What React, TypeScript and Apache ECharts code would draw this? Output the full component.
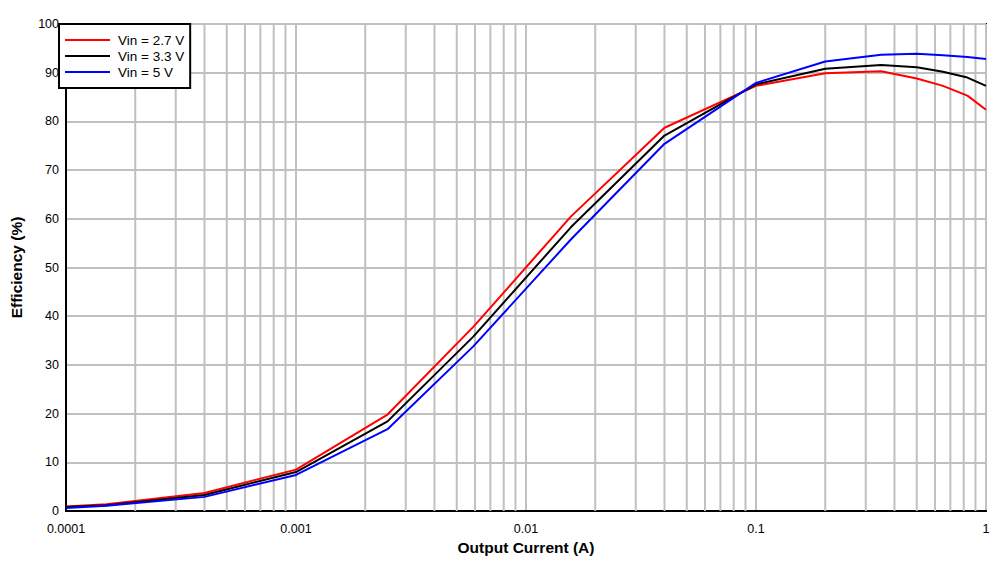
import React, { useEffect, useRef } from "react";
import * as echarts from "echarts";

const currents = [0.0001, 0.00015, 0.0004, 0.001, 0.0025, 0.0059, 0.0157, 0.04, 0.1, 0.2, 0.35, 0.5, 0.65, 0.83, 1];
const eff27 = [0.9, 1.4, 3.7, 8.5, 19.8, 37.8, 60.5, 78.7, 87.3, 89.9, 90.3, 88.8, 87.3, 85.3, 82.4];
const eff33 = [0.8, 1.2, 3.3, 8.0, 18.4, 35.8, 58.3, 77.1, 87.6, 90.8, 91.6, 91.1, 90.2, 89.0, 87.3];
const eff50 = [0.6, 1.1, 2.9, 7.4, 16.8, 33.8, 55.8, 75.4, 87.9, 92.3, 93.7, 93.9, 93.6, 93.2, 92.8];
const seriesNames = ["Vin = 2.7 V", "Vin = 3.3 V", "Vin = 5 V"];
const seriesColors = ["#ff0000", "#000000", "#0000ff"];
const decades = [0.0001, 0.001, 0.01, 0.1];
const minorMultipliers = [2, 3, 4, 5, 6, 7, 8, 9];

const FONT = "Liberation Sans, Arial, sans-serif";

export default function App() {
  const ref = useRef<HTMLDivElement>(null);
  useEffect(() => {
    if (!ref.current) return;
    const chart = echarts.init(ref.current, undefined, { renderer: "svg" });
    const minorData: any[] = [];
    decades.forEach((d) =>
      minorMultipliers.forEach((m) => {
        const x = +(d * m).toPrecision(6);
        minorData.push([x, 0], [x, 100], [x, "-"]);
      })
    );
    const all = [eff27, eff33, eff50];
    chart.setOption({
      animation: false,
      backgroundColor: "#ffffff",
      textStyle: { fontFamily: FONT },
      grid: { left: 59, right: 20, top: 24, bottom: 54, show: true, borderColor: "#000", borderWidth: 2, backgroundColor: "transparent" },
      legend: {
        left: 59,
        top: 24,
        orient: "vertical",
        data: seriesNames.map((n) => ({ name: n, icon: "rect" })),
        itemWidth: 45,
        itemHeight: 2,
        itemGap: 0,
        padding: [8, 6, 8, 6],
        borderColor: "#000",
        borderWidth: 2,
        borderRadius: 0,
        backgroundColor: "#fff",
        textStyle: { fontFamily: FONT, fontSize: 13.5, color: "#000", lineHeight: 16, padding: [0, 0, 0, 3] },
        itemStyle: { borderWidth: 0 },
      },
      xAxis: {
        type: "log",
        logBase: 10,
        min: 0.0001,
        max: 1,
        name: "Output Current (A)",
        nameLocation: "middle",
        nameGap: 28,
        nameTextStyle: { fontFamily: FONT, fontSize: 15.5, fontWeight: "bold", color: "#000" },
        axisLine: { show: true, lineStyle: { color: "#000", width: 2 } },
        axisTick: { show: false },
        axisLabel: {
          fontFamily: FONT,
          fontSize: 12.5,
          color: "#000",
          margin: 11,
          formatter: (v: number) => String(+v.toPrecision(3)),
        },
        splitLine: { show: true, lineStyle: { color: "#c0c0c0", width: 2 } },
      },
      yAxis: {
        type: "value",
        min: 0,
        max: 100,
        interval: 10,
        name: "Efficiency (%)",
        nameLocation: "middle",
        nameGap: 42,
        nameRotate: 90,
        nameTextStyle: { fontFamily: FONT, fontSize: 15.5, fontWeight: "bold", color: "#000" },
        axisLine: { show: true, lineStyle: { color: "#000", width: 2 } },
        axisTick: { show: false },
        axisLabel: { fontFamily: FONT, fontSize: 12.5, color: "#000", margin: 7 },
        splitLine: { show: true, lineStyle: { color: "#c0c0c0", width: 2 } },
      },
      series: [
        {
          name: "minor-grid",
          type: "line",
          data: minorData,
          connectNulls: false,
          lineStyle: { color: "#c0c0c0", width: 2 },
          showSymbol: false,
          symbol: "none",
          silent: true,
          z: 1,
        },
        ...seriesNames.map((n, i) => ({
          name: n,
          type: "line",
          data: currents.map((c, j) => [c, all[i][j]]),
          symbol: "none",
          showSymbol: false,
          lineStyle: { color: seriesColors[i], width: 2 },
          itemStyle: { color: seriesColors[i] },
          z: 3 + i,
        })),
      ],
    });
    return () => chart.dispose();
  }, []);
  return <div ref={ref} style={{ position: "fixed", left: 0, top: 0, width: 1006, height: 565 }} />;
}
